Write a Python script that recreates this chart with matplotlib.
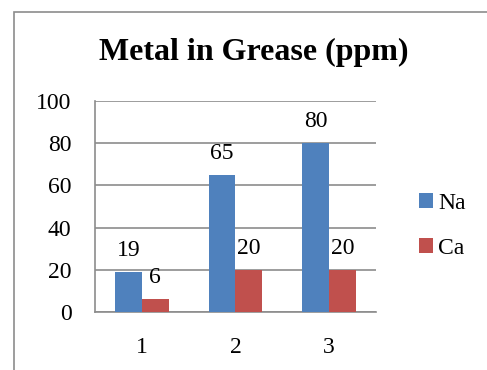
import matplotlib
matplotlib.use("Agg")
import matplotlib.pyplot as plt
from matplotlib.patches import Rectangle
import numpy as np

categories = ["1", "2", "3"]
na_values = [19, 65, 80]
ca_values = [6, 20, 20]
y_ticks = [0, 20, 40, 60, 80, 100]

plt.rcParams["font.family"] = ["Liberation Serif", "DejaVu Serif"]

W, H = 487, 370
fig = plt.figure(figsize=(W / 100, H / 100), dpi=100)

# outer chart frame (cut off at right and bottom)
frame = Rectangle((14 / W, -0.5), 2.0, (H - 12) / H + 0.5, transform=fig.transFigure,
                  fill=False, edgecolor="#8c8c8c", lw=1.2)
fig.patches.append(frame)

ax = fig.add_axes([95 / W, (H - 312) / H, 281 / W, 211 / H])

x = np.arange(len(categories))
bw = 0.288
b1 = ax.bar(x - bw / 2, na_values, bw, color="#4F81BD", label="Na", zorder=3)
b2 = ax.bar(x + bw / 2, ca_values, bw, color="#C0504D", label="Ca", zorder=3)

for bars, vals in ((b1, na_values), (b2, ca_values)):
    for b, v in zip(bars, vals):
        ax.annotate(str(v), (b.get_x() + b.get_width() / 2, v), xytext=(0, 8),
                    textcoords="offset points", ha="center", va="bottom", fontsize=17)

ax.set_xlim(-0.5, 2.5)
ax.set_ylim(0, 100)
ax.set_yticks(y_ticks)
ax.set_xticks(x)
ax.set_xticklabels(categories)
ax.tick_params(axis="both", length=0, labelsize=17)
ax.tick_params(axis="y", pad=17)
ax.tick_params(axis="x", pad=18)
ax.yaxis.grid(True, color="#8c8c8c", lw=1.2, zorder=0)
for s in ("right", "top"):
    ax.spines[s].set_visible(False)
for s in ("left", "bottom"):
    ax.spines[s].set_color("#8c8c8c")
    ax.spines[s].set_linewidth(1.2)

fig.text(254 / W, (H - 52) / H, "Metal in Grease (ppm)", ha="center", va="center",
         fontsize=23, fontweight="bold")

fig.legend(handles=[b1, b2], labels=["Na", "Ca"], loc="center left",
           bbox_to_anchor=(398 / W, (H - 226) / H), frameon=False, fontsize=17,
           handlelength=0.6, handleheight=0.6, handletextpad=0.2, labelspacing=1.0)

fig.savefig("out.png", dpi=100)
